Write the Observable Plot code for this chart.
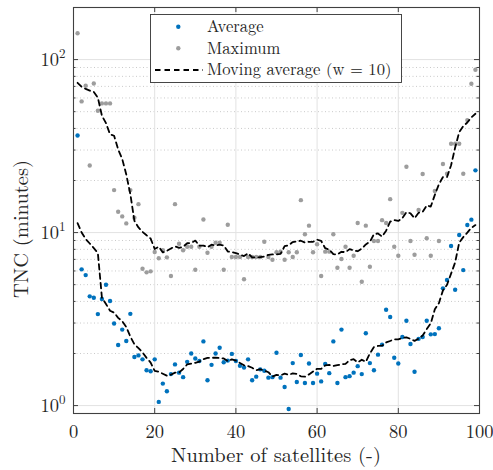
<!DOCTYPE html>
<html><head><meta charset="utf-8">
<script src="https://cdn.jsdelivr.net/npm/d3@7"></script>
<script src="https://cdn.jsdelivr.net/npm/@observablehq/plot@0.6"></script>
<style>body{margin:0;background:#fff;} svg{display:block}</style>
</head><body><div id="chart"></div>
<script>
const satellites = [1,2,3,4,5,6,7,8,9,10,11,12,13,14,15,16,17,18,19,20,21,22,23,24,25,26,27,28,29,30,31,32,33,34,35,36,37,38,39,40,41,42,43,44,45,46,47,48,49,50,51,52,53,54,55,56,57,58,59,60,61,62,63,64,65,66,67,68,69,70,71,72,73,74,75,76,77,78,79,80,81,82,83,84,85,86,87,88,89,90,91,92,93,94,95,96,97,98,99];
const tncAverage = [36.4,6.13,5.68,4.28,4.20,3.38,4.13,4.99,4.02,2.98,
  2.24,2.75,2.36,3.39,1.91,1.95,1.85,1.60,1.58,1.85,
  1.05,1.34,1.21,1.52,1.73,1.55,1.46,1.79,2.00,1.87,
  1.81,2.35,1.40,1.72,2.00,2.16,1.78,1.82,1.99,1.81,
  1.70,1.66,1.85,1.40,1.47,1.62,1.59,1.45,1.46,2.02,
  1.45,1.28,0.956,1.76,1.37,1.96,1.35,1.75,1.35,1.53,
  1.38,1.74,1.54,2.35,1.35,2.75,1.46,1.48,1.55,1.69,
  1.52,2.62,1.76,1.60,1.97,2.25,3.58,3.25,1.89,1.75,
  2.49,3.09,2.27,1.57,2.43,2.49,3.09,2.58,2.59,2.80,
  4.76,5.32,8.36,4.67,9.68,6.07,11.07,11.88,22.9];
const tncMaximum = [142,57.3,70.6,24.4,72.8,50.6,55.8,55.8,55.8,17.6,
  13.2,12.4,11.3,17.6,12.2,14.6,6.18,5.89,5.97,7.72,
  7.10,7.9,7.19,5.61,14.6,8.62,7.90,8.28,8.28,6.10,
  8.28,11.9,7.65,8.28,8.74,8.74,6.10,11.1,7.22,7.22,
  7.22,5.37,7.22,7.22,7.22,7.22,8.85,7.22,6.97,7.69,
  7.76,6.97,7.69,7.22,7.69,15.4,9.78,10.97,7.69,8.56,
  5.61,7.76,7.76,9.78,6.26,7.04,8.28,6.26,7.35,11.36,
  5.20,10.97,6.35,8.94,8.94,11.8,11.36,15.6,8.28,7.35,
  13.0,24.0,8.94,7.45,13.5,21.8,9.27,7.35,17.4,8.94,
  24.9,21.9,32.6,32.6,32.6,21.9,44.7,72.5,87.4];
const xTicks = [0,20,40,60,80,100];
const yTicks = [1,10,100];
const yMinorTicks = [2,3,4,5,6,7,8,9,20,30,40,50,60,70,80,90];
const seriesLabels = ["Average","Maximum","Moving average (w = 10)"];
const windowSize = 10;
const xLabel = "Number of satellites (-)";
const yLabel = "TNC (minutes)";

// MATLAB-style movmean: for even k, k/2 before and k/2-1 after; shrinks at the ends
function movmean(v, k) {
  const before = Math.floor(k / 2), after = k - before - 1, n = v.length;
  return v.map((_, i) => d3.mean(v.slice(Math.max(0, i - before), Math.min(n, i + after + 1))));
}
const avgMA = movmean(tncAverage, windowSize);
const maxMA = movmean(tncMaximum, windowSize);
const rows = satellites.map((n, i) => ({n, avg: tncAverage[i], max: tncMaximum[i], avgMA: avgMA[i], maxMA: maxMA[i]}));

const W = 493, H = 470, mL = 73, mR = 14, mT = 7, mB = 57;
const innerW = W - mL - mR, innerH = H - mT - mB;
const axisColor = "#404040";
const textColor = "#262626";
const blue = "#0072BD", gray = "#9d9d9d";
const fontFamily = '"Latin Modern Roman", "Liberation Serif", serif';

const plot = Plot.plot({
  width: W, height: H, marginLeft: mL, marginRight: mR, marginTop: mT, marginBottom: mB,
  style: {fontFamily, fontSize: "18.5px", background: "white", color: textColor},
  x: {domain: [0, 100]},
  y: {type: "log", domain: [0.9, 200]},
  marks: [
    Plot.ruleY(yMinorTicks, {stroke: "#c4c4c4", strokeDasharray: "1,2.5", strokeWidth: 0.9}),
    Plot.ruleX(xTicks.slice(1, -1), {stroke: "#e2e2e2"}),
    Plot.ruleY(yTicks, {stroke: "#e2e2e2"}),
    Plot.dot(rows, {x: "n", y: "avg", r: 2.2, fill: blue}),
    Plot.dot(rows, {x: "n", y: "max", r: 2.2, fill: gray}),
    Plot.line(rows, {x: "n", y: "avgMA", stroke: "black", strokeWidth: 1.8, strokeDasharray: "5.5,4"}),
    Plot.line(rows, {x: "n", y: "maxMA", stroke: "black", strokeWidth: 1.8, strokeDasharray: "5.5,4"}),
    Plot.tickX(xTicks, {x: d => d, insetTop: innerH - 5, stroke: axisColor}),
    Plot.tickX(xTicks, {x: d => d, insetBottom: innerH - 5, stroke: axisColor}),
    Plot.tickY(yTicks, {y: d => d, insetRight: innerW - 5, stroke: axisColor}),
    Plot.tickY(yTicks, {y: d => d, insetLeft: innerW - 5, stroke: axisColor}),
    Plot.tickY(yMinorTicks, {y: d => d, insetRight: innerW - 2.5, stroke: axisColor}),
    Plot.tickY(yMinorTicks, {y: d => d, insetLeft: innerW - 2.5, stroke: axisColor}),
    Plot.frame({stroke: axisColor, strokeWidth: 1.1}),
    Plot.axisX(xTicks, {anchor: "bottom", tickSize: 0, tickPadding: 11, label: null}),
    Plot.axisY(yTicks, {anchor: "left", tickSize: 0, tickPadding: 8, label: null,
      tickFormat: d => "10^" + Math.round(Math.log10(d))})
  ]
});
document.getElementById("chart").append(plot);

const svg = d3.select(plot);
// superscript exponents on y tick labels
svg.selectAll('[aria-label="y-axis tick label"] text').each(function () {
  const t = d3.select(this);
  const [base, exp] = t.text().split("^");
  t.text(base);
  t.append("tspan").attr("dy", "-0.55em").attr("font-size", "13px").text(exp);
});

// axis labels
svg.append("text").attr("x", (mL + W - mR) / 2).attr("y", 462)
  .attr("text-anchor", "middle").attr("font-size", "20.5px").attr("fill", textColor).text(xLabel);
svg.append("text").attr("transform", "translate(28,229) rotate(-90)")
  .attr("text-anchor", "middle").attr("font-size", "20.5px").attr("fill", textColor).text(yLabel);

// legend
const lg = svg.append("g").attr("font-size", "16.6px").attr("fill", textColor).attr("text-anchor", "start");
lg.append("rect").attr("x", 150.5).attr("y", 14.5).attr("width", 251).attr("height", 68)
  .attr("fill", "white").attr("stroke", "#333").attr("stroke-width", 0.9);
const ly = [26.7, 48.3, 70];
lg.append("circle").attr("cx", 178.3).attr("cy", ly[0]).attr("r", 2.2).attr("fill", blue);
lg.append("circle").attr("cx", 178.3).attr("cy", ly[1]).attr("r", 2.2).attr("fill", gray);
lg.append("line").attr("x1", 155).attr("x2", 203).attr("y1", ly[2]).attr("y2", ly[2])
  .attr("stroke", "black").attr("stroke-width", 1.8).attr("stroke-dasharray", "5.5,4");
seriesLabels.forEach((s, i) => {
  lg.append("text").attr("x", 207).attr("y", ly[i] + 5.2).text(s);
});
</script>
</body></html>
